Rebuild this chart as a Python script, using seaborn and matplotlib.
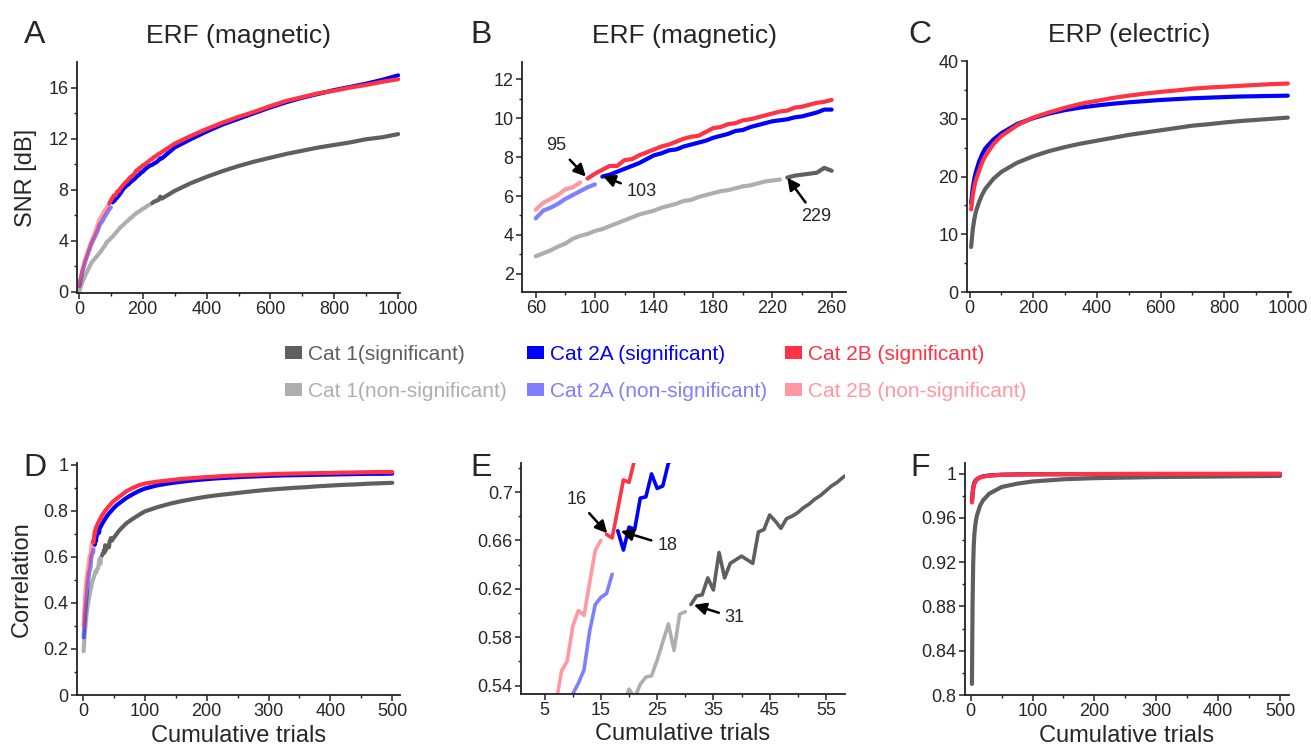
import numpy as np
import matplotlib
matplotlib.use('Agg')
import matplotlib.pyplot as plt
from matplotlib.patches import Patch
from matplotlib.ticker import FixedLocator, FuncFormatter
import seaborn as sns

sns.set_style('ticks')
plt.rcParams['font.family'] = ['Liberation Sans', 'DejaVu Sans']

# ---------------- data ----------------
categories = ['Cat 1', 'Cat 2A', 'Cat 2B']
sig_labels = ['Cat 1(significant)', 'Cat 2A (significant)', 'Cat 2B (significant)']
nonsig_labels = ['Cat 1(non-significant)', 'Cat 2A (non-significant)', 'Cat 2B (non-significant)']
colors = ['#5f5f5f', '#0000ff', '#ff3344']

# SNR, ERF (magnetic) -- panels A and B
snr_mag_trials = ([1, 10, 20, 30, 40, 50] + list(range(60, 261, 5))
                  + list(range(300, 1001, 50)))
snr_mag_cat1 = [0.05, 0.7, 1.3, 1.8, 2.3, 2.6,
                2.90, 3.05, 3.20, 3.40, 3.55, 3.80, 3.95, 4.05, 4.20, 4.30, 4.45,
                4.60, 4.75, 4.90, 5.05, 5.15, 5.25, 5.40, 5.50, 5.60, 5.75, 5.80,
                5.95, 6.05, 6.15, 6.25, 6.30, 6.40, 6.50, 6.55, 6.65, 6.75, 6.80,
                6.85, 6.95, 7.05, 7.10, 7.15, 7.20, 7.45, 7.30,
                7.9, 8.5, 9.0, 9.45, 9.85, 10.2, 10.5, 10.8, 11.05, 11.3, 11.5,
                11.7, 11.95, 12.1, 12.35]
snr_mag_cat2a = [0.45, 1.5, 2.4, 3.1, 3.8, 4.3,
                 4.85, 5.25, 5.40, 5.60, 5.85, 6.05, 6.25, 6.45, 6.60, 7.00, 7.10,
                 7.25, 7.40, 7.55, 7.70, 7.90, 8.10, 8.20, 8.35, 8.40, 8.55, 8.65,
                 8.75, 8.85, 9.00, 9.10, 9.20, 9.35, 9.40, 9.55, 9.65, 9.75, 9.85,
                 9.90, 9.95, 10.05, 10.10, 10.20, 10.30, 10.45, 10.45,
                 11.3, 11.95, 12.55, 13.1, 13.55, 14.0, 14.45, 14.85, 15.2, 15.5,
                 15.8, 16.05, 16.3, 16.6, 16.95]
snr_mag_cat2b = [0.5, 1.6, 2.5, 3.3, 4.0, 4.6,
                 5.30, 5.65, 5.85, 6.05, 6.35, 6.45, 6.70, 6.90, 7.15, 7.35, 7.55,
                 7.55, 7.85, 7.90, 8.10, 8.25, 8.40, 8.55, 8.65, 8.80, 8.95, 9.05,
                 9.10, 9.30, 9.50, 9.55, 9.70, 9.75, 9.90, 9.95, 10.05, 10.15, 10.25,
                 10.35, 10.40, 10.55, 10.60, 10.70, 10.80, 10.85, 10.95,
                 11.6, 12.2, 12.75, 13.25, 13.7, 14.1, 14.55, 14.95, 15.25, 15.55,
                 15.75, 16.0, 16.2, 16.45, 16.65]
snr_mag_threshold = [229, 103, 95]

# SNR, ERP (electric) -- panel C
snr_el_trials = [5, 10, 15, 20, 30, 40, 50, 75, 100, 150, 200, 250, 300, 350, 400,
                 450, 500, 550, 600, 650, 700, 750, 800, 850, 900, 950, 1000]
snr_el_cat1 = [7.8, 10.8, 12.6, 13.9, 15.6, 16.9, 17.9, 19.6, 20.8, 22.4, 23.5, 24.4,
               25.1, 25.7, 26.2, 26.7, 27.2, 27.6, 28.0, 28.4, 28.8, 29.05, 29.35,
               29.6, 29.8, 30.0, 30.2]
snr_el_cat2a = [15.4, 18.0, 19.6, 20.8, 22.6, 23.9, 24.9, 26.4, 27.5, 29.1, 30.1,
                30.9, 31.5, 31.95, 32.3, 32.6, 32.85, 33.05, 33.25, 33.4, 33.55,
                33.65, 33.75, 33.85, 33.9, 33.95, 34.0]
snr_el_cat2b = [14.3, 16.8, 18.3, 19.4, 21.0, 22.5, 23.6, 25.6, 27.0, 28.9, 30.2,
                31.1, 31.9, 32.6, 33.1, 33.6, 34.0, 34.35, 34.65, 34.9, 35.2, 35.4,
                35.55, 35.7, 35.85, 36.0, 36.1]

# Correlation, magnetic -- panels D and E
corr_mag_trials = list(range(1, 61)) + [70, 80, 90] + list(range(100, 501, 20))
corr_mag_cat1 = [0.19, 0.23, 0.27, 0.30, 0.33, 0.355, 0.375, 0.395, 0.41, 0.425,
                 0.44, 0.455, 0.465, 0.478, 0.49, 0.50, 0.508, 0.515, 0.524, 0.537,
                 0.530, 0.541, 0.547, 0.548, 0.561, 0.576, 0.591, 0.569, 0.599, 0.601,
                 0.607, 0.614, 0.615, 0.629, 0.619, 0.650, 0.629, 0.641, 0.644, 0.647,
                 0.644, 0.641, 0.667, 0.669, 0.681, 0.676, 0.670, 0.678, 0.680, 0.683,
                 0.687, 0.690, 0.694, 0.697, 0.701, 0.705, 0.708, 0.712, 0.715, 0.718,
                 0.745, 0.764, 0.781,
                 0.797, 0.815, 0.830, 0.842, 0.852, 0.861, 0.868, 0.874, 0.880, 0.886,
                 0.891, 0.895, 0.899, 0.902, 0.906, 0.909, 0.912, 0.914, 0.917, 0.919,
                 0.921]
corr_mag_cat2a = [0.25, 0.29, 0.33, 0.37, 0.40, 0.43, 0.46, 0.49, 0.51, 0.533,
                  0.542, 0.553, 0.585, 0.607, 0.613, 0.616, 0.632, 0.668, 0.652, 0.671,
                  0.669, 0.695, 0.696, 0.715, 0.703, 0.705, 0.724, 0.728, 0.733, 0.738,
                  0.743, 0.748, 0.752, 0.757, 0.761, 0.765, 0.769, 0.773, 0.777, 0.781,
                  0.784, 0.788, 0.791, 0.794, 0.797, 0.800, 0.803, 0.806, 0.809, 0.812,
                  0.815, 0.817, 0.820, 0.822, 0.825, 0.827, 0.829, 0.831, 0.833, 0.835,
                  0.855, 0.871, 0.885,
                  0.896, 0.910, 0.919, 0.926, 0.932, 0.937, 0.941, 0.944, 0.947, 0.949,
                  0.951, 0.953, 0.954, 0.955, 0.956, 0.957, 0.958, 0.959, 0.960, 0.960,
                  0.961]
corr_mag_cat2b = [0.30, 0.36, 0.41, 0.45, 0.48, 0.505, 0.525, 0.552, 0.560, 0.589,
                  0.602, 0.598, 0.625, 0.652, 0.660, 0.665, 0.662, 0.686, 0.710, 0.708,
                  0.727, 0.732, 0.738, 0.745, 0.750, 0.756, 0.760, 0.766, 0.770, 0.776,
                  0.780, 0.784, 0.788, 0.792, 0.796, 0.800, 0.803, 0.807, 0.810, 0.814,
                  0.817, 0.820, 0.823, 0.826, 0.829, 0.832, 0.835, 0.838, 0.840, 0.843,
                  0.845, 0.847, 0.849, 0.851, 0.853, 0.855, 0.857, 0.859, 0.861, 0.863,
                  0.884, 0.898, 0.910,
                  0.918, 0.926, 0.932, 0.938, 0.942, 0.946, 0.949, 0.952, 0.954, 0.956,
                  0.958, 0.960, 0.961, 0.962, 0.963, 0.964, 0.965, 0.966, 0.967, 0.968,
                  0.968]
corr_mag_threshold = [31, 18, 16]

# Correlation, electric -- panel F
corr_el_trials = [2, 3, 4, 5, 6, 8, 10, 15, 20, 30, 40, 50, 75, 100, 150, 200, 300,
                  400, 500]
corr_el_cat1 = [0.81, 0.88, 0.918, 0.936, 0.946, 0.956, 0.962, 0.971, 0.976, 0.982,
                0.985, 0.988, 0.991, 0.993, 0.995, 0.996, 0.997, 0.9975, 0.998]
corr_el_cat2a = [0.975, 0.982, 0.987, 0.990, 0.992, 0.994, 0.995, 0.9967, 0.9976,
                 0.9984, 0.9988, 0.9991, 0.9994, 0.9995, 0.9996, 0.9997, 0.9998,
                 0.9998, 0.9998]
corr_el_cat2b = [0.974, 0.981, 0.986, 0.989, 0.991, 0.993, 0.995, 0.9965, 0.9975,
                 0.9983, 0.9987, 0.999, 0.9993, 0.9995, 0.9996, 0.9997, 0.9998,
                 0.9998, 0.9999]
no_threshold = [0, 0, 0]

# ---------------- figure ----------------
W, H = 1311, 751
fig = plt.figure(figsize=(W / 100, H / 100), dpi=100)


def px_axes(left, top, right, bottom):
    return fig.add_axes([left / W, 1 - bottom / H, (right - left) / W, (bottom - top) / H])


def draw(ax, trials, series, thresholds, lw, xlo=None, xhi=None):
    x = np.asarray(trials, dtype=float)
    keep = np.ones_like(x, dtype=bool)
    if xlo is not None:
        keep &= x >= xlo
    if xhi is not None:
        keep &= x <= xhi
    for y, thr, c in zip(series, thresholds, colors):
        y = np.asarray(y, dtype=float)
        ns = keep & (x < thr)
        s = keep & (x >= thr)
        if ns.sum() > 1:
            sns.lineplot(x=x[ns], y=y[ns], color=c, alpha=0.5, lw=lw, ax=ax,
                         estimator=None, legend=False)
        sns.lineplot(x=x[s], y=y[s], color=c, lw=lw, ax=ax,
                     estimator=None, legend=False)


def style(ax, xlim, ylim, xmaj, xmin_, ymaj, ymin_):
    ax.set_xlim(*xlim)
    ax.set_ylim(*ylim)
    ax.xaxis.set_major_locator(FixedLocator(list(xmaj)))
    ax.xaxis.set_minor_locator(FixedLocator(list(xmin_)))
    ax.yaxis.set_major_locator(FixedLocator(list(ymaj)))
    ax.yaxis.set_minor_locator(FixedLocator(list(ymin_)))
    fmt = FuncFormatter(lambda v, p: f'{v:g}')
    ax.xaxis.set_major_formatter(fmt)
    ax.yaxis.set_major_formatter(fmt)
    for sp in ['top', 'right']:
        ax.spines[sp].set_visible(False)
    for sp in ['left', 'bottom']:
        ax.spines[sp].set_linewidth(1.3)
        ax.spines[sp].set_color('#222222')
    ax.tick_params(which='major', direction='out', length=4, width=1.1,
                   labelsize=13, pad=2, color='#222222')
    ax.tick_params(which='minor', direction='out', length=2.5, width=1.0,
                   color='#222222')
    ax.set_xlabel('')
    ax.set_ylabel('')


axA = px_axes(77, 62, 400, 293)
axB = px_axes(522, 62, 846, 292)
axC = px_axes(967, 61, 1291, 292)
axD = px_axes(77, 463, 400, 695)
axE = px_axes(521, 463, 845, 694)
axF = px_axes(965, 463, 1289, 695)

snr_mag = [snr_mag_cat1, snr_mag_cat2a, snr_mag_cat2b]
snr_el = [snr_el_cat1, snr_el_cat2a, snr_el_cat2b]
corr_mag = [corr_mag_cat1, corr_mag_cat2a, corr_mag_cat2b]
corr_el = [corr_el_cat1, corr_el_cat2a, corr_el_cat2b]

draw(axA, snr_mag_trials, snr_mag, snr_mag_threshold, 3.0)
style(axA, (-6, 1006), (-0.1, 18), range(0, 1001, 200), range(100, 1000, 200),
      range(0, 17, 4), range(2, 17, 4))

draw(axB, snr_mag_trials, snr_mag, snr_mag_threshold, 3.0, xlo=60, xhi=260)
style(axB, (50.7, 269.7), (1.06, 12.9), range(60, 261, 40), range(80, 261, 40),
      range(2, 13, 2), range(3, 13, 2))

draw(axC, snr_el_trials, snr_el, no_threshold, 3.0)
style(axC, (-8, 1010), (0, 40), range(0, 1001, 200), range(100, 1000, 200),
      range(0, 41, 10), range(5, 40, 10))

draw(axD, corr_mag_trials, corr_mag, corr_mag_threshold, 3.0)
style(axD, (-9.7, 512.6), (0, 1.007), range(0, 501, 100), range(50, 500, 100),
      [0, 0.2, 0.4, 0.6, 0.8, 1.0], [0.1, 0.3, 0.5, 0.7, 0.9])

draw(axE, corr_mag_trials, corr_mag, corr_mag_threshold, 2.6, xhi=70)
style(axE, (0.79, 58.4), (0.533, 0.724), range(5, 56, 10), range(10, 56, 10),
      [0.54, 0.58, 0.62, 0.66, 0.70], [0.56, 0.60, 0.64, 0.68, 0.72])

draw(axF, corr_el_trials, corr_el, no_threshold, 3.0)
style(axF, (-9.2, 514.5), (0.8, 1.0097), range(0, 501, 100), range(50, 500, 100),
      [0.8, 0.84, 0.88, 0.92, 0.96, 1.0], [0.82, 0.86, 0.90, 0.94, 0.98])

# titles
for ax, t in [(axA, 'ERF (magnetic)'), (axB, 'ERF (magnetic)'), (axC, 'ERP (electric)')]:
    ax.set_title(t, fontsize=19, pad=14)

# axis labels
axA.set_ylabel('SNR [dB]', fontsize=17, labelpad=8)
axD.set_ylabel('Correlation', fontsize=17, labelpad=8)
for ax in (axD, axE, axF):
    ax.set_xlabel('Cumulative trials', fontsize=17, labelpad=3)

# panel letters
for letter, xp, yp in [('A', 35, 43), ('B', 481, 43), ('C', 920, 43),
                       ('D', 35, 476), ('E', 481, 476), ('F', 920, 476)]:
    fig.text(xp / W, 1 - yp / H, letter, fontsize=23, ha='center', va='baseline')

# annotations
arrow = dict(arrowstyle='-|>', color='black', lw=1.8, mutation_scale=18,
             shrinkA=2, shrinkB=1)


def first_sig(trials, values, thr):
    for t, v in zip(trials, values):
        if t >= thr:
            return t, v


for k, txt_xy in zip(range(3), [(249.3, 4.95), (131.6, 6.23), (74.1, 8.58)]):
    t, v = first_sig(snr_mag_trials, snr_mag[k], snr_mag_threshold[k])
    axB.annotate(str(snr_mag_threshold[k]), xy=(t - 0.5, v + 0.05), xytext=txt_xy,
                 ha='center', va='center', fontsize=13, arrowprops=arrow)

for k, txt_xy in zip(range(3), [(38.8, 0.596), (26.8, 0.656), (10.7, 0.694)]):
    t, v = first_sig(corr_mag_trials, corr_mag[k], corr_mag_threshold[k])
    axE.annotate(str(corr_mag_threshold[k]), xy=(t + 0.3, v), xytext=txt_xy,
                 ha='center', va='center', fontsize=13, arrowprops=arrow)

# legend (three columns)
col_left = [285, 527, 785]
for k in range(3):
    handles = [Patch(facecolor=colors[k], edgecolor='none'),
               Patch(facecolor=colors[k], edgecolor='none', alpha=0.5)]
    leg = fig.legend(handles, [sig_labels[k], nonsig_labels[k]], loc='upper left',
                     bbox_to_anchor=(col_left[k] / W, 1 - 345 / H), frameon=False,
                     fontsize=15, borderpad=0, borderaxespad=0, handlelength=0.8,
                     handleheight=0.55, handletextpad=0.3, labelspacing=0.85)
    for txt, a in zip(leg.get_texts(), [1.0, 0.5]):
        txt.set_color(colors[k])
        txt.set_alpha(a)

fig.savefig('out.png', dpi=100)
